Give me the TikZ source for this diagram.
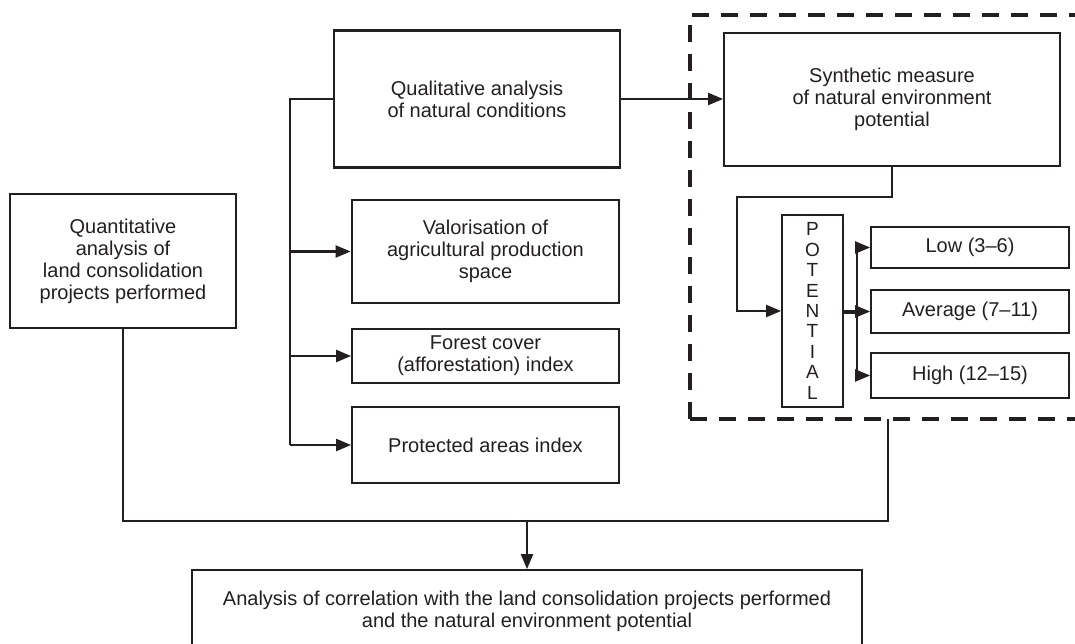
\documentclass[tikz,border=0pt]{standalone}
\usepackage{fontspec}
\setmainfont{Liberation Sans}
\usetikzlibrary{arrows.meta}
\definecolor{ink}{HTML}{231F20}
\begin{document}
\begin{tikzpicture}[x=1pt,y=-1pt,
  box/.style={draw=ink, line width=1.8pt, align=center, inner sep=0pt, text=ink,
    font=\fontsize{20}{22}\selectfont},
  conn/.style={draw=ink, line width=2.2pt, line join=miter},
  arr/.style={conn, -{Triangle[length=15pt,width=12pt]}},
  dashbox/.style={draw=ink, line width=4pt, dash pattern=on 17pt off 12pt}]
\useasboundingbox (0,0) rectangle (1075,644);
\clip (0,0) rectangle (1075,644);
\fill[white] (0,0) rectangle (1075,644);

% boxes
\node[box, minimum width=226pt, minimum height=134pt] (quant) at (123,261)
  {Quantitative\\analysis of\\land consolidation\\projects performed};
\node[box, line width=2.3pt, minimum width=286pt, minimum height=137pt] (qual) at (477,99)
  {Qualitative analysis\\of natural conditions};
\node[box, line width=2.8pt, minimum width=267pt, minimum height=103pt] (valor) at (485.5,251.5)
  {Valorisation of\\agricultural production\\space};
\node[box, minimum width=267pt, minimum height=54pt] (forest) at (485.5,356)
  {Forest cover\\(afforestation) index};
\node[box, minimum width=267pt, minimum height=76pt] (prot) at (485.5,445)
  {Protected areas index};
\node[box, minimum width=336pt, minimum height=133pt] (synth) at (892,99.5)
  {Synthetic measure\\of natural environment\\potential};
\node[box, minimum width=61pt, minimum height=192pt, font=\fontsize{19}{20.4}\selectfont] (pot) at (812.5,311)
  {P\\O\\T\\E\\N\\T\\I\\A\\L};
\node[box, minimum width=198pt, minimum height=41pt] (low) at (970,247.5) {Low (3--6)};
\node[box, minimum width=198pt, minimum height=43pt] (avg) at (970,311.5) {Average (7--11)};
\node[box, minimum width=198pt, minimum height=45pt] (high) at (970,375.5) {High (12--15)};
\node[box, minimum width=670pt, minimum height=82pt] (corr) at (527,611)
  {Analysis of correlation with the land consolidation projects performed\\and the natural environment potential};

% dashed frame
\path[dashbox] (690,419) -- (690,15) -- (1090,15);
\path[dashbox] (690,419) -- (1090,419);
\coordinate (frameb) at (888,419);

% bracket on the left of the qualitative box
\coordinate (bt) at (290,99);
\path[conn] (qual.west) -- (bt) -- (bt |- prot.west);
\path[arr] (bt |- valor.west) -- (valor.west);
\path[arr] (bt |- forest.west) -- (forest.west);
\path[arr] (bt |- prot.west) -- (prot.west);

% qualitative -> synthetic
\path[arr] (qual.east) -- (qual.east -| synth.west);

% synthetic -> potential
\coordinate (s1) at (892,197);
\coordinate (s2) at (737,197);
\path[arr] (synth.south) -- (s1) -- (s2) -- (s2 |- pot.west) -- (pot.west);

% fork
\coordinate (fk) at (857,311.5);
\path[conn, line width=4pt] (pot.east |- fk) -- (fk);
\path[conn, line width=1.8pt] (fk |- low.west) -- (fk |- high.west);
\path[arr] (fk |- low.west) -- (low.west);
\path[arr] (fk) -- (avg.west);
\path[arr] (fk |- high.west) -- (high.west);

% bottom join
\coordinate (j1) at (123,521);
\coordinate (j2) at (888,521);
\coordinate (jm) at (527,521);
\path[conn] (quant.south) -- (j1) -- (j2) -- (frameb);
\path[arr] (jm) -- (corr.north);
\end{tikzpicture}
\end{document}
